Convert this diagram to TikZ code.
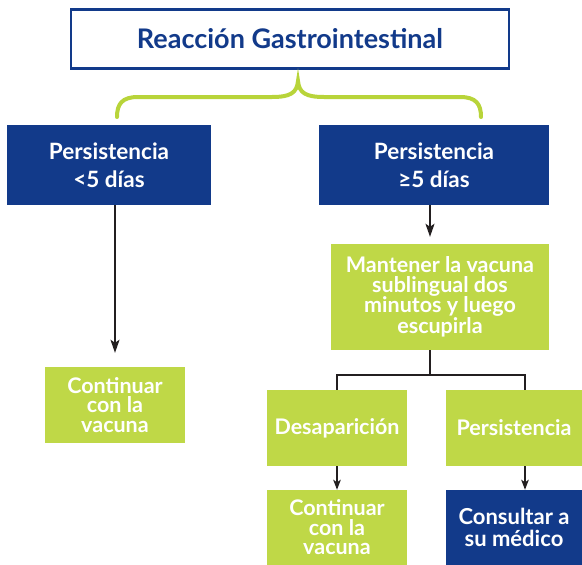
\documentclass[tikz,border=0pt]{standalone}
\usepackage{fontspec}
\setmainfont{Lato}
\usetikzlibrary{arrows.meta}
\definecolor{dblue}{RGB}{18,58,138}
\definecolor{lgreen}{RGB}{191,216,71}
\definecolor{bgreen}{RGB}{184,212,58}
\definecolor{lgray}{RGB}{35,31,32}
\tikzset{
  bluebox/.style={fill=dblue, text=white, font=\fontsize{22.5}{28}\selectfont\bfseries, align=center, inner sep=0pt},
  greenbox/.style={fill=lgreen, text=white, font=\fontsize{21.5}{19.5}\selectfont\bfseries, align=center, inner sep=0pt},
  conn/.style={draw=lgray, line width=1.8pt},
  arr/.style={conn, -{Stealth[length=13pt, width=9pt, inset=3pt]}},
  sarr/.style={conn, -{Stealth[length=10pt, width=7.5pt, inset=2.5pt]}}
}
\begin{document}
\begin{tikzpicture}[x=1pt, y=-1pt]
\useasboundingbox (0,0) rectangle (582,565);
% title
\node[draw=dblue, line width=2.2pt, fill=white, minimum width=438pt, minimum height=59pt, text=dblue,
  font=\fontsize{27}{30}\selectfont\bfseries] (ti) at (290,39) {Reacción Gastrointestinal};
% brace
\draw[bgreen, line width=4pt, line cap=round] (117,117) .. controls (117,104) and (122,97) .. (138,97)
  -- (272,97) .. controls (290,97) and (297,93) .. (298,81)
  .. controls (299,93) and (306,97) .. (324,97)
  -- (460,97) .. controls (476,97) and (481,104) .. (481,117);
% level 1
\node[bluebox, minimum width=204pt, minimum height=80pt] (lb) at (109,165) {Persistencia\\<5 días};
\node[bluebox, minimum width=230pt, minimum height=80pt] (rb) at (434,165) {Persistencia\\≥5 días};
% left branch
\node[greenbox, minimum width=140pt, minimum height=76pt] (lg) at (115,405) {Continuar\\con la\\vacuna};
% right branch
\node[greenbox, font=\fontsize{21.5}{19.5}\selectfont\bfseries, minimum width=218pt, minimum height=106pt] (mt) at (440,297) {Mantener la vacuna\\sublingual dos\\minutos y luego\\escupirla};
\node[greenbox, minimum width=140pt, minimum height=76pt] (de) at (337,428) {Desaparición};
\node[greenbox, minimum width=136pt, minimum height=76pt] (pe) at (514,428) {Persistencia};
\node[greenbox, minimum width=140pt, minimum height=75pt] (cv) at (337,527.5) {Continuar\\con la\\vacuna};
\node[bluebox, font=\fontsize{22}{22}\selectfont\bfseries, minimum width=136pt, minimum height=75pt] (co) at (514,527.5) {Consultar a\\su médico};
% connectors
\draw[arr, shorten >=14pt] (lg.north |- lb.south) -- (lg.north);
\draw[arr, shorten >=7pt] ([xshift=-4pt]rb.south) -- ([xshift=-4pt]rb.south |- mt.north);
\draw[conn] ([xshift=-10pt]mt.south) -- ++(0,25) coordinate (j);
\draw[conn] (j) -| (de.north);
\draw[conn] (j) -| ([xshift=11pt]pe.north);
\draw[sarr] (de.south) -- (cv.north);
\draw[sarr] ([xshift=11pt]pe.south) -- ([xshift=11pt]pe.south |- co.north);
\end{tikzpicture}
\end{document}
